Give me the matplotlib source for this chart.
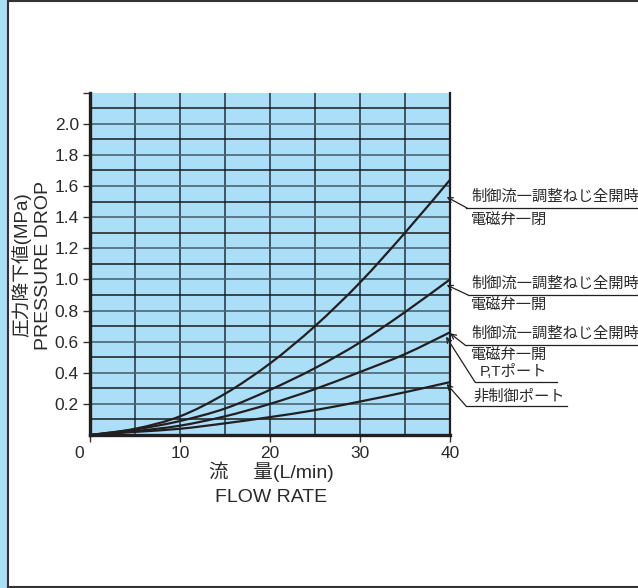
import matplotlib
matplotlib.use("Agg")
import matplotlib.pyplot as plt
from matplotlib.lines import Line2D
from matplotlib.patches import Rectangle, PathPatch
from matplotlib.path import Path
from matplotlib.transforms import ScaledTranslation

plt.rcParams['font.family'] = ['Liberation Sans', 'Noto Sans CJK JP', 'DejaVu Sans']

# 流量 (L/min)
flow = [0, 5, 10, 15, 20, 25, 30, 35, 40]
# 圧力降下 (MPa)
drop_full_closed = [0, 0.04, 0.12, 0.265, 0.46, 0.70, 0.98, 1.30, 1.64]
drop_full_open = [0, 0.035, 0.09, 0.17, 0.29, 0.43, 0.595, 0.79, 1.00]
drop_full_open_pt = [0, 0.025, 0.06, 0.12, 0.20, 0.295, 0.405, 0.52, 0.66]
drop_uncontrolled = [0, 0.02, 0.04, 0.075, 0.115, 0.16, 0.215, 0.275, 0.34]

x_ticks = [0, 10, 20, 30, 40]
x_grid = [5, 10, 15, 20, 25, 30, 35]
y_ticks = [0.2, 0.4, 0.6, 0.8, 1.0, 1.2, 1.4, 1.6, 1.8, 2.0, 2.2]
y_tick_labels = ['0.2', '0.4', '0.6', '0.8', '1.0', '1.2', '1.4', '1.6', '1.8', '2.0', '']
y_grid_even = [0.2, 0.4, 0.6, 0.8, 1.0, 1.2, 1.4, 1.6, 1.8, 2.0]
y_grid_odd = [0.1, 0.3, 0.5, 0.7, 0.9, 1.1, 1.3, 1.5, 1.7, 1.9, 2.1]

# 注記: (文字列, 左端px, 中心px)
label_texts = [
    ('制御流一調整ねじ全開時', 471, 197), ('電磁弁一閉', 471, 220),
    ('制御流一調整ねじ全開時', 471, 284), ('電磁弁一開', 471, 305),
    ('制御流一調整ねじ全開時', 471, 334), ('電磁弁一開', 471, 355),
    ('P,Tポート', 480, 371),
    ('非制御ポート', 473, 397),
]
# 下線 (x0, x1, y) px
underlines = [(466, 637, 208), (468, 637, 295), (465, 637, 345), (475, 557, 382), (466, 567, 406)]
# 矢印: 始点px -> 先端(データ座標)
arrow_starts = [(467, 208), (468, 295), (465, 345), (475, 382), (466, 406)]
arrow_tips = [(39.63, 1.53), (39.63, 0.964), (40.0, 0.654), (39.56, 0.632), (39.63, 0.328)]

W, H = 638, 588
blue = '#abdff8'
ink = '#231f20'
txt_c = '#2a2a2a'


def smooth_path(xs, ys):
    # catmull-rom -> bezier, passes through every read point
    pts = list(zip(xs, ys))
    verts = [pts[0]]
    codes = [Path.MOVETO]
    n = len(pts)
    for i in range(n - 1):
        p0 = pts[max(i - 1, 0)]
        p1 = pts[i]
        p2 = pts[i + 1]
        p3 = pts[min(i + 2, n - 1)]
        c1 = (p1[0] + (p2[0] - p0[0]) / 6, p1[1] + (p2[1] - p0[1]) / 6)
        c2 = (p2[0] - (p3[0] - p1[0]) / 6, p2[1] - (p3[1] - p1[1]) / 6)
        verts += [c1, c2, p2]
        codes += [Path.CURVE4] * 3
    return Path(verts, codes)


fig = plt.figure(figsize=(W / 100, H / 100), dpi=100)

# 外枠
fig.add_artist(Rectangle((0, 0), 7 / W, 1, transform=fig.transFigure, color=blue, lw=0))
fig.add_artist(Line2D([7.5 / W, 7.5 / W], [0, 1], transform=fig.transFigure, color='#333333', lw=1.5))
fig.add_artist(Line2D([7.5 / W, 1], [1 - 0.8 / H, 1 - 0.8 / H], transform=fig.transFigure, color='#333333', lw=1.5))
fig.add_artist(Line2D([7.5 / W, 1], [1.0 / H, 1.0 / H], transform=fig.transFigure, color='#333333', lw=1.5))

ax = fig.add_axes([90 / W, 1 - 435 / H, 360 / W, (435 - 92.7) / H])
ax.set_facecolor(blue)
ax.set_xlim(0, 40)
ax.set_ylim(0, 2.2)

ax.set_xticks(x_ticks)
ax.set_yticks(y_ticks)
ax.set_yticklabels(y_tick_labels)

for g in x_grid:
    ax.axvline(g, color='#2e3d45', lw=1.2, zorder=1)
for g in y_grid_even:
    ax.axhline(g, color='#4a6470', lw=1.2, zorder=1)
for g in y_grid_odd:
    ax.axhline(g, color='#1a1a1a', lw=1.1, zorder=1)

ax.tick_params(direction='out', length=5, width=1, color='#333333',
               labelsize=12.5, labelcolor=txt_c, pad=3)

ax.spines['top'].set_visible(False)
ax.spines['left'].set_linewidth(2.4)
ax.spines['bottom'].set_linewidth(2.4)
ax.spines['right'].set_linewidth(1.6)
for s in ax.spines.values():
    s.set_color(ink)

# 0 のラベルを少し左へ
lbl0 = ax.get_xticklabels()[0]
lbl0.set_transform(lbl0.get_transform() + ScaledTranslation(-11 / 100, 0, fig.dpi_scale_trans))

for series in [drop_full_closed, drop_full_open, drop_full_open_pt, drop_uncontrolled]:
    ax.add_patch(PathPatch(smooth_path(flow, series), fill=False, edgecolor=ink, lw=1.6,
                           zorder=3, capstyle='round'))

# 軸ラベル
fig.text(21.5 / W, 1 - 265 / H, '圧力降下値(MPa)', rotation=90, ha='center', va='center',
         fontsize=13.5, color=txt_c)
fig.text(43.5 / W, 1 - 265 / H, 'PRESSURE DROP', rotation=90, ha='center', va='center',
         fontsize=14, color=txt_c)
fig.text(271 / W, 1 - 472 / H, '流\u3000 量(L/min)', ha='center', va='center',
         fontsize=14, color=txt_c)
fig.text(271 / W, 1 - 497 / H, 'FLOW RATE', ha='center', va='center',
         fontsize=14, color=txt_c)

for txt, lx, cy in label_texts:
    fig.text(lx / W, 1 - cy / H, txt, ha='left', va='center', fontsize=11, color=txt_c)

for x0, x1, yy in underlines:
    fig.add_artist(Line2D([x0 / W, x1 / W], [1 - yy / H, 1 - yy / H],
                          transform=fig.transFigure, color=ink, lw=0.9))

for (sx, sy), tip in zip(arrow_starts, arrow_tips):
    ax.annotate('', xy=tip, xycoords='data', xytext=(sx, H - sy), textcoords='figure pixels',
                arrowprops=dict(arrowstyle='->', lw=0.9, color=ink, shrinkA=0, shrinkB=0,
                                mutation_scale=9),
                annotation_clip=False)

fig.savefig('out.png', dpi=100)
